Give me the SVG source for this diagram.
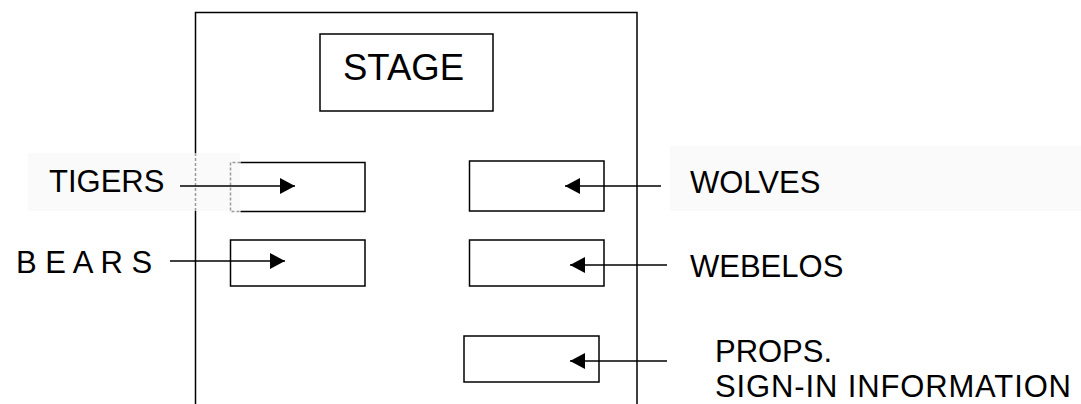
<svg xmlns="http://www.w3.org/2000/svg" width="1081" height="404" viewBox="0 0 1081 404">
  <style>
    .box { fill: none; stroke: #000; stroke-width: 1.5; }
    .faint { fill: none; stroke: #9a9a9a; stroke-width: 1.5; stroke-dasharray: 3 2; }
    .label { font-family: "Liberation Sans", Arial, sans-serif; font-size: 31px; fill: #000; }
    .title { font-family: "Liberation Sans", Arial, sans-serif; font-size: 36.5px; fill: #000; }
    .link { stroke: #000; stroke-width: 1.5; fill: none; marker-end: url(#head); }
    .tint { fill: #fafafa; }
  </style>
  <defs>
    <marker id="head" markerUnits="userSpaceOnUse" markerWidth="16" markerHeight="16" viewBox="0 0 16 16" refX="15" refY="8" orient="auto">
      <path d="M0,0 L15,8 L0,16 Z" fill="#000"/>
    </marker>
  </defs>

  <rect width="1081" height="404" fill="#fff"/>
  <!-- light patches behind the side labels -->
  <rect class="tint" x="28" y="153" width="212" height="58"/>
  <rect class="tint" x="670" y="146" width="411" height="65"/>

  <!-- hall outline, open at the bottom -->
  <g id="hall">
    <path class="box" d="M195.5,153 V12.5 H637 V404"/>
    <path class="box" d="M195.5,211 V404"/>
    <path class="faint" d="M195.5,153 V211"/>
  </g>

  <g id="stage">
    <rect class="box" x="320" y="34" width="173" height="77"/>
    <text class="title" x="343" y="80">STAGE</text>
  </g>

  <g id="tigers">
    <path class="box" d="M240.5,162.5 H365 V211.5 H240.5"/>
    <path class="faint" d="M240.5,162.5 H230.5 V211.5 H240.5"/>
    <text class="label" x="49" y="192">TIGERS</text>
  </g>

  <g id="bears">
    <rect class="box" x="230.5" y="240" width="134.5" height="46"/>
    <text class="label" x="16" y="273">B E A R S</text>
  </g>

  <g id="wolves">
    <rect class="box" x="469.5" y="161" width="134.5" height="50"/>
    <text class="label" x="690" y="193">WOLVES</text>
  </g>

  <g id="webelos">
    <rect class="box" x="469.5" y="240" width="134.5" height="46"/>
    <text class="label" x="690" y="277">WEBELOS</text>
  </g>

  <g id="props">
    <rect class="box" x="464" y="336" width="135" height="46"/>
    <text class="label" x="715" y="362" textLength="117">PROPS.</text>
    <text class="label" x="715" y="397" textLength="356">SIGN-IN INFORMATION</text>
  </g>

  <g id="connectors">
    <line class="link" x1="180" y1="186" x2="295" y2="186"/>
    <line class="link" x1="170" y1="261" x2="285" y2="261"/>
    <line class="link" x1="661" y1="186" x2="565" y2="186"/>
    <line class="link" x1="667" y1="265" x2="570" y2="265"/>
    <line class="link" x1="667" y1="361" x2="570" y2="361"/>
  </g>
</svg>
